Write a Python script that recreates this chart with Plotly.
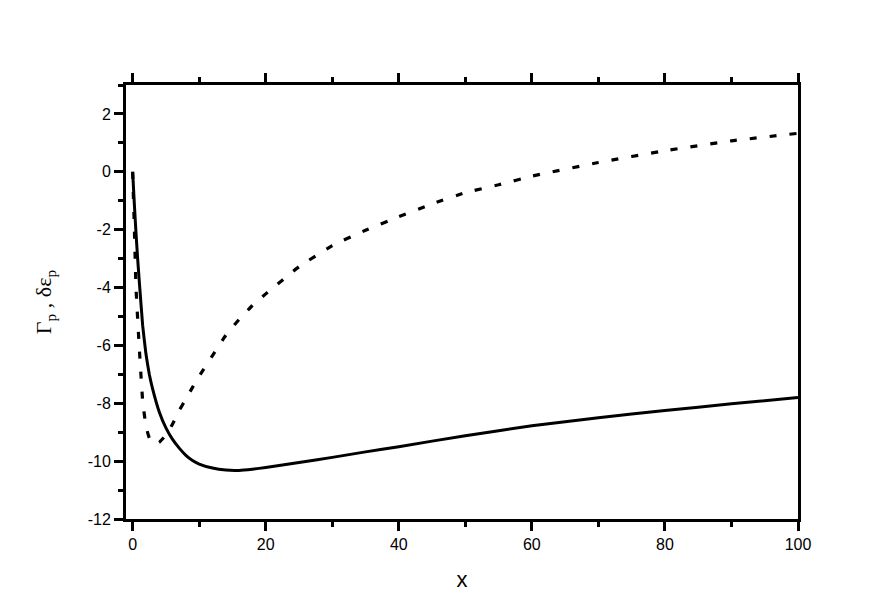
import plotly.graph_objects as go

# Solid curve (Gamma_p)
x_solid = [0, 0.25, 0.5, 0.75, 1, 1.5, 2, 2.5, 3, 4, 5, 6, 7, 8, 9, 10, 12, 14, 16, 18, 20,
           25, 30, 35, 40, 50, 60, 70, 80, 90, 100]
y_solid = [0, -1.1, -2.1, -3.0, -3.8, -5.3, -6.3, -7.0, -7.5, -8.3, -8.85, -9.25, -9.55, -9.8,
           -9.98, -10.1, -10.24, -10.31, -10.32, -10.28, -10.22, -10.05, -9.87, -9.68, -9.5,
           -9.12, -8.78, -8.5, -8.25, -8.02, -7.8]

# Dashed curve (delta epsilon_p)
x_dash = [0, 0.25, 0.5, 1.0, 1.5, 2.0, 2.5, 3, 3.5, 4, 5, 6, 7, 8, 9, 10, 12, 14, 16, 18, 20,
          25, 30, 35, 40, 45, 50, 55, 60, 70, 80, 90, 100]
y_dash = [0, -1.9, -4.0, -6.1, -7.9, -8.8, -9.2, -9.38, -9.41, -9.35, -9.1, -8.72, -8.25,
          -7.85, -7.45, -7.06, -6.35, -5.65, -5.1, -4.62, -4.22, -3.28, -2.55, -2.02, -1.55,
          -1.11, -0.72, -0.45, -0.15, 0.32, 0.73, 1.07, 1.33]

x_ticks = [0, 20, 40, 60, 80, 100]
y_ticks = [2, 0, -2, -4, -6, -8, -10, -12]

fig = go.Figure()
fig.add_trace(go.Scatter(x=x_solid, y=y_solid, mode="lines",
                         line=dict(color="black", width=3, shape="spline", smoothing=0.3),
                         showlegend=False))
fig.add_trace(go.Scatter(x=x_dash, y=y_dash, mode="lines",
                         line=dict(color="black", width=3.2, dash="7px,13px",
                                   shape="spline", smoothing=0.3),
                         showlegend=False))

tickfont = dict(family="Liberation Sans, Arial", size=16, color="black")

fig.update_layout(
    width=871, height=608,
    margin=dict(l=118, r=81, t=77, b=97),
    paper_bgcolor="white", plot_bgcolor="white",
    xaxis=dict(range=[-1, 100], showline=True, linewidth=3, linecolor="black",
               mirror="ticks", showgrid=False, zeroline=False, automargin=False,
               tickvals=x_ticks, ticktext=[str(v) for v in x_ticks],
               ticks="outside", ticklen=9, tickwidth=2.5, tickcolor="black",
               tickfont=tickfont,
               minor=dict(dtick=10, tick0=0, ticks="outside", ticklen=5, tickwidth=2.5,
                          tickcolor="black", showgrid=False),
               title=dict(text="x", font=dict(family="Liberation Sans, Arial", size=22,
                                              color="black"), standoff=20)),
    yaxis=dict(range=[-12, 3], showline=True, linewidth=3, linecolor="black",
               mirror=True, showgrid=False, zeroline=False, automargin=False,
               tickvals=y_ticks, ticktext=[str(v) for v in y_ticks],
               ticks="outside", ticklen=9, tickwidth=2.5, tickcolor="black",
               tickfont=tickfont,
               minor=dict(dtick=2, tick0=-11, ticks="outside", ticklen=5, tickwidth=2.5,
                          tickcolor="black", showgrid=False),
               title=dict(text="Γ<sub>p</sub> , δε<sub>p</sub>",
                          font=dict(family="Liberation Serif, Times New Roman", size=22,
                                    color="black"), standoff=30)),
)

fig.write_html("out.html")
